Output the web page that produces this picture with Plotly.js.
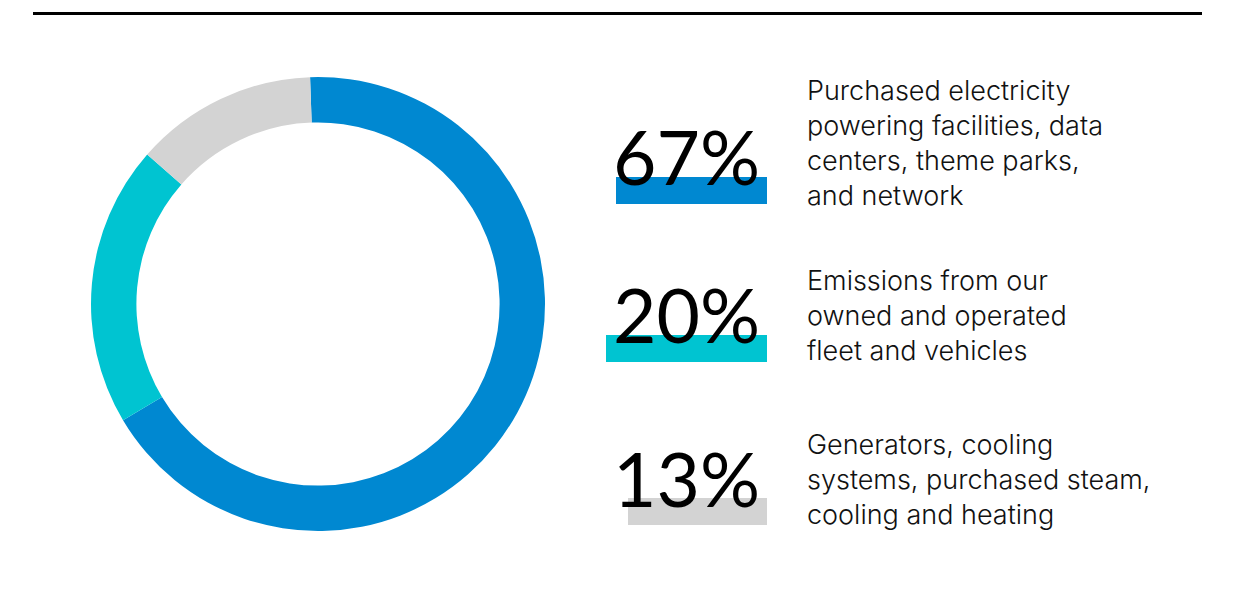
<!DOCTYPE html>
<html>
<head>
<meta charset="utf-8">
<script src="https://cdn.plot.ly/plotly-3.0.1.min.js"></script>
<style>html,body{margin:0;padding:0;background:#fff;}#chart{width:1247px;height:601px;}</style>
</head>
<body>
<div id="chart"></div>
<script>
var categories = ["Purchased electricity", "Owned fleet and vehicles", "Generators, cooling, steam and heating"];
var values = [67, 20, 13];
var percentLabels = ["67%", "20%", "13%"];
var descriptions = [
  "Purchased electricity<br>powering facilities, data<br>centers, theme parks,<br>and network",
  "Emissions from our<br>owned and operated<br>fleet and vehicles",
  "Generators, cooling<br>systems, purchased steam,<br>cooling and heating"
];
var colors = ["#0088D1", "#00C4D1", "#D3D3D3"];

var W = 1247, H = 601;
function px(x){ return x / W; }
function py(y){ return 1 - y / H; }

// layout positions (pixels)
var pctCenterY = [156, 314, 478];
var barLeft = [616, 606, 628];
var barTop = [177, 335, 498];
var descTop = [72, 262, 426];

var shapes = [{
  type: "line", xref: "paper", yref: "paper",
  x0: px(33), x1: px(1202), y0: py(13.5), y1: py(13.5),
  line: {color: "#000", width: 3}
}];
var annotations = [];
for (var i = 0; i < values.length; i++) {
  shapes.push({
    type: "rect", xref: "paper", yref: "paper", layer: "below",
    x0: px(barLeft[i]), x1: px(767), y0: py(barTop[i] + 27), y1: py(barTop[i]),
    fillcolor: colors[i], line: {width: 0}
  });
  annotations.push({
    xref: "paper", yref: "paper", x: px(762), y: py(pctCenterY[i]),
    xanchor: "right", yanchor: "middle", showarrow: false,
    text: percentLabels[i],
    font: {family: "Lato", size: 75, color: "#000"}
  });
  annotations.push({
    xref: "paper", yref: "paper", x: px(805), y: py(descTop[i]),
    xanchor: "left", yanchor: "top", align: "left", showarrow: false,
    text: descriptions[i],
    font: {family: "Inter", size: 27, weight: 300, color: "#111"}
  });
}

var data = [{
  type: "pie",
  labels: categories,
  values: values,
  marker: {colors: colors, line: {width: 0}},
  hole: 0.8,
  sort: false,
  direction: "clockwise",
  rotation: -2,
  textinfo: "none",
  hoverinfo: "label+percent",
  showlegend: false,
  domain: {x: [px(91), px(545)], y: [py(531), py(77)]}
}];

var layout = {
  width: W, height: H,
  margin: {l: 0, r: 0, t: 0, b: 0},
  paper_bgcolor: "#fff",
  showlegend: false,
  shapes: shapes,
  annotations: annotations
};

Plotly.newPlot("chart", data, layout, {displayModeBar: false, staticPlot: true});
</script>
</body>
</html>
